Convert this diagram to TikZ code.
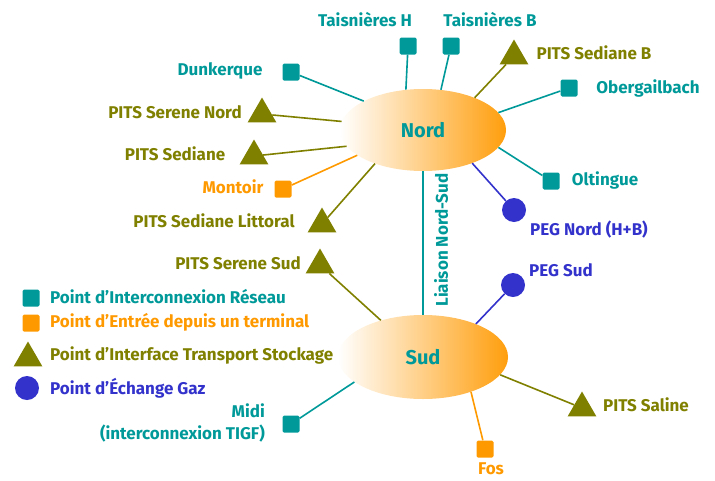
\documentclass[tikz,border=0pt]{standalone}
\usepackage{fontspec}
\setmainfont{Fira Sans}
\usetikzlibrary{shapes.geometric}
\definecolor{reseau}{RGB}{0,153,153}
\definecolor{terminal}{RGB}{255,153,0}
\definecolor{stockage}{RGB}{128,128,0}
\definecolor{echange}{RGB}{51,51,204}

\begin{document}
\begin{tikzpicture}[x=1pt, y=-1pt, font=\bfseries\fontsize{17}{19}\selectfont,
        zone/.style={ellipse, inner sep=0, minimum width=166, minimum height=82,
            left color=white, right color=terminal!95!white, text=reseau,
            font=\bfseries\fontsize{20}{22}\selectfont},
        pir/.style={rectangle, rounded corners=1.5pt, fill=reseau, minimum size=17, inner sep=0},
        pite/.style={pir, fill=terminal},
        pits/.style={regular polygon, regular polygon sides=3, fill=stockage, minimum size=33, inner sep=0},
        peg/.style={circle, fill=echange, minimum size=24, inner sep=0},
        lab/.style={inner sep=0},
        lien/.style={line width=1.6}]
        \useasboundingbox (0,0) rectangle (715,480);

        % les deux zones
        \node[zone] (nord) at (423,130) {Nord};
        \node[zone, minimum width=170, minimum height=84] (sud) at (423,357) {Sud};
        \draw[lien, reseau] (nord.south) -- (sud.north);
        \node[lab, text=reseau, rotate=90] (liaison) at (441,240) {Liaison Nord-Sud};

        % zone Nord
        \node[pir] (taish) at (408,46) {};
        \node[lab, text=reseau] (taishl) at (365,20) {Taisnières H};
        \draw[lien, reseau] (nord.113) -- (taish);
        \node[pir] (taisb) at (451,46) {};
        \node[lab, text=reseau] (taisbl) at (490,20) {Taisnières B};
        \draw[lien, reseau] (nord.66) -- (taisb);
        \node[pits] (sedb) at (514,56) {};
        \node[lab, text=stockage] (sedbl) at (594,53) {PITS Sediane B};
        \draw[lien, stockage] (nord.32) -- (sedb);
        \node[pir] (oberg) at (569,88) {};
        \node[lab, text=reseau] (obergl) at (648,88) {Obergailbach};
        \draw[lien, reseau] (nord.13) -- (oberg);
        \node[pir] (olt) at (551,181) {};
        \node[lab, text=reseau] (oltl) at (605,180) {Oltingue};
        \draw[lien, reseau] (nord.-13) -- (olt);
        \node[peg] (pegn) at (514,210) {};
        \node[lab, text=echange] (pegnl) at (589,230) {PEG Nord (H+B)};
        \draw[lien, echange] (nord.-34) -- (pegn);
        \node[pir] (dunk) at (291,72) {};
        \node[lab, text=reseau] (dunkl) at (220,71) {Dunkerque};
        \draw[lien, reseau] (nord.154) -- (dunk);
        \node[pits] (seren) at (262,114) {};
        \node[lab, text=stockage] (serenl) at (175,112) {PITS Serene Nord};
        \draw[lien, stockage] (nord.174) -- (seren);
        \node[pits] (sed) at (254,156) {};
        \node[lab, text=stockage] (sedl) at (175,154) {PITS Sediane};
        \draw[lien, stockage] (nord.192) -- (sed);
        \node[pite] (mont) at (283,189) {};
        \node[lab, text=terminal] (montl) at (233,187) {Montoir};
        \draw[lien, terminal] (nord.201) -- (mont);
        \node[pits] (sedl) at (322,224) {};
        \node[lab, text=stockage] (sedll) at (214,221) {PITS Sediane Littoral};
        \draw[lien, stockage] (nord.215) -- (sedl);

        % zone Sud
        \node[pits] (seres) at (320,265) {};
        \node[lab, text=stockage] (seresl) at (238,263) {PITS Serene Sud};
        \draw[lien, stockage] (sud.139) -- (seres);
        \node[peg] (pegs) at (513,285) {};
        \node[lab, text=echange] (pegsl) at (561,270) {PEG Sud};
        \draw[lien, echange] (sud.32) -- (pegs);
        \node[pits] (sal) at (582,408) {};
        \node[lab, text=stockage] (sall) at (646,405) {PITS Saline};
        \draw[lien, stockage] (sud.-13) -- (sal);
        \node[pite] (fos) at (485,449) {};
        \node[lab, text=terminal] (fosl) at (491,469) {Fos};
        \draw[lien, terminal] (sud.-36) -- (fos);
        \node[pir] (midi) at (291,424) {};
        \node[lab, text=reseau, align=right, anchor=east, font=\bfseries\fontsize{17}{22}\selectfont] (midil) at (265,423) {Midi\\(interconnexion TIGF)};
        \draw[lien, reseau] (sud.200) -- (midi);

        % legende
        \node[pir] (lpir) at (31,298) {};
        \node[lab, text=reseau, anchor=west] (lpirt) at (50,297) {Point d’Interconnexion Réseau};
        \node[pite] (lpite) at (31,323) {};
        \node[lab, text=terminal, anchor=west] (lpitet) at (50,322) {Point d’Entrée depuis un terminal};
        \node[pits] (lpits) at (28,358) {};
        \node[lab, text=stockage, anchor=west] (lpitst) at (50,355) {Point d’Interface Transport Stockage};
        \node[peg] (lpeg) at (27,388) {};
        \node[lab, text=echange, anchor=west] (lpegt) at (50,388) {Point d’Échange Gaz};
\end{tikzpicture}
\end{document}
